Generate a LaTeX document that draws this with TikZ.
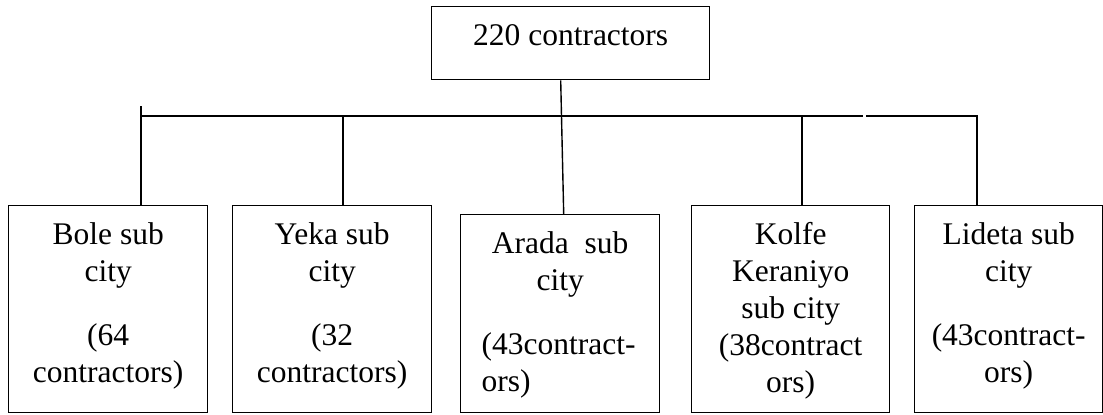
\documentclass[tikz,border=0pt]{standalone}
\usepackage{fontspec}
\setmainfont{Liberation Serif}

% box of fixed size, text set from the top
\newcommand{\boxtext}[3]{\parbox[t][#2][t]{#1}{\centering\rule{0pt}{19.5pt}#3}}
\newcommand{\lefttext}[1]{\makebox[\linewidth][l]{\hspace*{10.5pt}#1}}

\begin{document}
\begin{tikzpicture}[
  x=0.5pt,
  y=-0.5pt,
  font=\fontsize{15.75}{18.5}\selectfont,
  unit/.style={draw, line width=0.7pt, inner sep=0pt, anchor=north west},
  link/.style={line width=0.7pt}
]
\useasboundingbox (0,0) rectangle (1103,414);
\node[unit] (top) at (431,6) {\boxtext{139pt}{36.5pt}{220 contractors}};
\node[unit] (bole) at (8,205) {\boxtext{99.5pt}{103.5pt}{Bole sub\\city\\[13.5pt](64\\contractors)}};
\node[unit] (yeka) at (232,205) {\boxtext{99.5pt}{103.5pt}{Yeka sub\\city\\[13.5pt](32\\contractors)}};
\node[unit] (arada) at (460,214) {\boxtext{99.5pt}{99pt}{Arada\ \ sub\\city\\[13.5pt]\lefttext{(43contract-}\\\lefttext{ors)}}};
\node[unit] (kolfe) at (691,205) {\boxtext{99pt}{103.5pt}{Kolfe\\Keraniyo\\sub city\\(38contract\\ors)}};
\node[unit] (lideta) at (914,205) {\boxtext{94pt}{103.5pt}{Lideta sub\\city\\[13.5pt](43contract-\\ors)}};
\coordinate (tick) at (141,106);
\coordinate (busL) at (141,116);
\coordinate (gapL) at (863,116);
\coordinate (gapR) at (866,116);
\coordinate (busR) at (977,116);
\coordinate (yekaT) at (343,116);
\coordinate (kolfeT) at (802,116);
\draw[link] ([xshift=-5pt]top.south) -- ([xshift=1.75pt]arada.north);
\draw[link] (tick) -- (tick |- bole.north);
\draw[link] (busL) -- (gapL);
\draw[link] (gapR) -- (busR) -- (busR |- lideta.north);
\draw[link] (yekaT) -- (yekaT |- yeka.north);
\draw[link] (kolfeT) -- (kolfeT |- kolfe.north);
\end{tikzpicture}
\end{document}
